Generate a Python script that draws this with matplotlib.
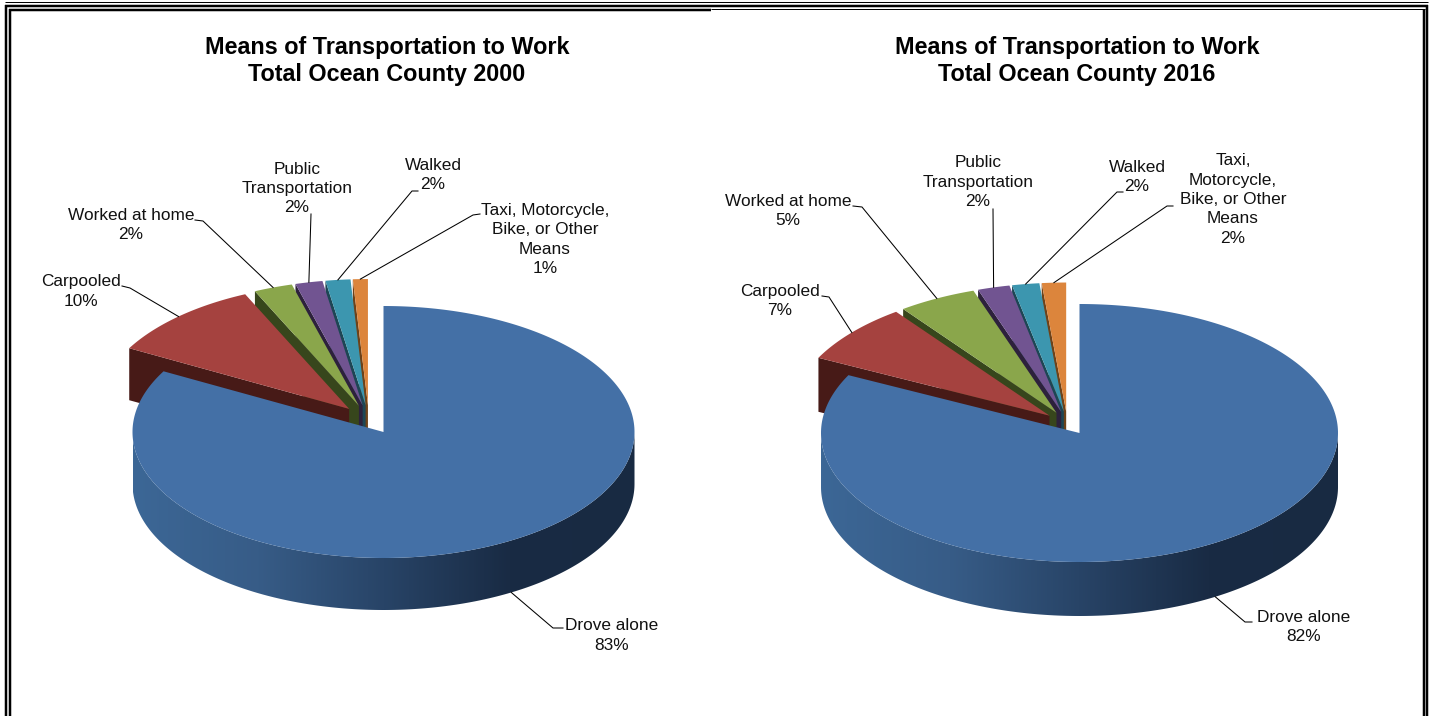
#!/usr/bin/env python3
import numpy as np
import matplotlib
matplotlib.use('Agg')
import matplotlib.pyplot as plt
from matplotlib.colors import LinearSegmentedColormap
from matplotlib.patches import Polygon

plt.rcParams['font.family'] = ['Liberation Sans', 'DejaVu Sans']

titles = ["Means of Transportation to Work\nTotal Ocean County 2000",
          "Means of Transportation to Work\nTotal Ocean County 2016"]
# 右回りに描く順番
labels_2000 = ["Drove alone", "Carpooled", "Worked at home",
               "Public\nTransportation", "Walked",
               "Taxi, Motorcycle,\nBike, or Other\nMeans"]
labels_2016 = ["Drove alone", "Carpooled", "Worked at home",
               "Public\nTransportation", "Walked",
               "Taxi,\nMotorcycle,\nBike, or Other\nMeans"]
values_2000 = [83.0, 10.2, 2.49, 1.75, 1.6, 0.96]
values_2016 = [82.4, 7.49, 4.9, 2.0, 1.7, 1.51]

top_colors = ['#4470a6', '#a5423f', '#8aa64b', '#715491', '#3c96af', '#dc853c']
side_colors = ['#1c2e47', '#471a17', '#37461c', '#2d213c', '#1d4654', '#6e4218']
rim_cmap = LinearSegmentedColormap.from_list(
    'rim', [(0.0, '#3c6796'), (0.25, '#375c87'), (0.5, '#284467'),
            (0.75, '#192b44'), (1.0, '#182a42')])

# 図の配置 (ピクセル)
geom_2000 = dict(cx=383.5, cy=432., rx=251., ry=126., depth=52., explode=0.115)
geom_2016 = dict(cx=1079.5, cy=433., rx=258.5, ry=129., depth=54., explode=0.09)
# ラベルの中心と引き出し線の折れ点
layout_2000 = [((612, 635.5), (563, 628), (553, 628)),
               ((81, 291.5), (122, 286), (130, 288)),
               ((131, 225), (195, 220), (203, 221)),
               ((297, 188.5), (311, 214), (311, 214)),
               ((433, 175), (418, 191), (412, 191)),
               ((545, 239.5), (480, 214), (473, 215))]
layout_2016 = [((1304, 627), (1252, 622), (1245, 622)),
               ((780, 301), (822, 296), (829, 297)),
               ((788, 211), (853, 206), (862, 207)),
               ((978, 182), (993, 209), (993, 209)),
               ((1137, 177), (1123, 192), (1117, 192)),
               ((1233, 199.5), (1173, 206), (1167, 206))]


def rim_point(x0, y0, rx, ry, ang):
    return x0 + rx * np.sin(ang), y0 - ry * np.cos(ang)


def draw_pie(ax, values, labels, geom, layout):
    cx, cy, rx, ry = geom['cx'], geom['cy'], geom['rx'], geom['ry']
    depth, e = geom['depth'], geom['explode']
    frac = np.array(values) / np.sum(values)
    edges = np.concatenate(([0.], np.cumsum(frac))) * 2 * np.pi
    mid0 = (edges[0] + edges[1]) / 2
    # 切り離す前の中心
    x_c = cx - e * rx * np.sin(mid0)
    y_c = cy + e * ry * np.cos(mid0)
    # 奥のくさびから順に描く
    for i in range(len(values) - 1, -1, -1):
        a0, a1 = edges[i], edges[i + 1]
        mid = (a0 + a1) / 2
        x0 = x_c + e * rx * np.sin(mid)
        y0 = y_c - e * ry * np.cos(mid)
        th = np.linspace(a0, a1, 300)
        xr, yr = rim_point(x0, y0, rx, ry, th)
        if i == 0:
            # 側面のグラデーション
            t = np.linspace(np.pi / 2, 3 * np.pi / 2, 240)
            xs, ys = rim_point(x0, y0, rx, ry, t)
            rim = Polygon(np.c_[np.r_[xs, xs[::-1]],
                                np.r_[ys, ys[::-1] + depth]],
                          transform=ax.transData, fc='none', ec='none')
            ax.add_patch(rim)
            grad = np.linspace(0, 1, 512).reshape(1, -1)
            im = ax.imshow(grad, cmap=rim_cmap, aspect='auto', zorder=0.5,
                           extent=(x0 - rx, x0 + rx, y0 + ry + depth, y0))
            im.set_clip_path(rim)
        else:
            # 切断面
            xe, ye = rim_point(x0, y0, rx, ry, a0)
            ax.fill([x0, xe, xe, x0], [y0, ye, ye + depth, y0 + depth],
                    color=side_colors[i], lw=0)
        ax.fill(np.r_[x0, xr], np.r_[y0, yr], color=top_colors[i], lw=0)

    # ラベルと引き出し線
    for i, (lab, val) in enumerate(zip(labels, values)):
        mid = (edges[i] + edges[i + 1]) / 2
        x0 = x_c + e * rx * np.sin(mid)
        y0 = y_c - e * ry * np.cos(mid)
        xt, yt = rim_point(x0, y0, rx, ry, mid)
        if i == 0:
            yt += depth
        text_xy, p0, p1 = layout[i]
        ax.plot([p0[0], p1[0], xt], [p0[1], p1[1], yt], color='k', lw=0.75,
                zorder=5)
        ax.text(text_xy[0], text_xy[1], "{}\n{:.0f}%".format(lab, val),
                ha='center', va='center', ma='center', fontsize=12.4,
                color='#111111', linespacing=1.37, zorder=6)


def draw_frame(ax):
    kw = dict(color='k', solid_capstyle='butt', zorder=10)
    px = 72. / 100.
    ax.plot([5, 1428], [1.5, 1.5], lw=1 * px, **kw)
    ax.plot([5, 1428], [6, 6], lw=2.5 * px, **kw)
    ax.plot([9, 711], [10, 10], lw=2.5 * px, **kw)
    ax.plot([711, 1425], [9.3, 9.3], lw=1 * px, **kw)
    ax.plot([6, 6], [5, 716], lw=2.5 * px, **kw)
    ax.plot([10, 10], [9, 716], lw=2.5 * px, **kw)
    ax.plot([1424, 1424], [9, 716], lw=2.5 * px, **kw)
    ax.plot([1427, 1427], [5, 716], lw=2.5 * px, **kw)


if __name__ == '__main__':
    fig = plt.figure(figsize=(14.30, 7.16), dpi=100)
    ax = fig.add_axes((0, 0, 1, 1))

    draw_frame(ax)
    draw_pie(ax, values_2000, labels_2000, geom_2000, layout_2000)
    draw_pie(ax, values_2016, labels_2016, geom_2016, layout_2016)
    ax.set_xlim(0, 1430)
    ax.set_ylim(716, 0)
    ax.set_axis_off()
    ax.text(387, 61, titles[0], ha='center', va='center', fontsize=16.8,
            fontweight='bold', linespacing=1.23)
    ax.text(1077, 61, titles[1], ha='center', va='center', fontsize=16.8,
            fontweight='bold', linespacing=1.23)

    fig.savefig('out.png', dpi=100)
    plt.close()
